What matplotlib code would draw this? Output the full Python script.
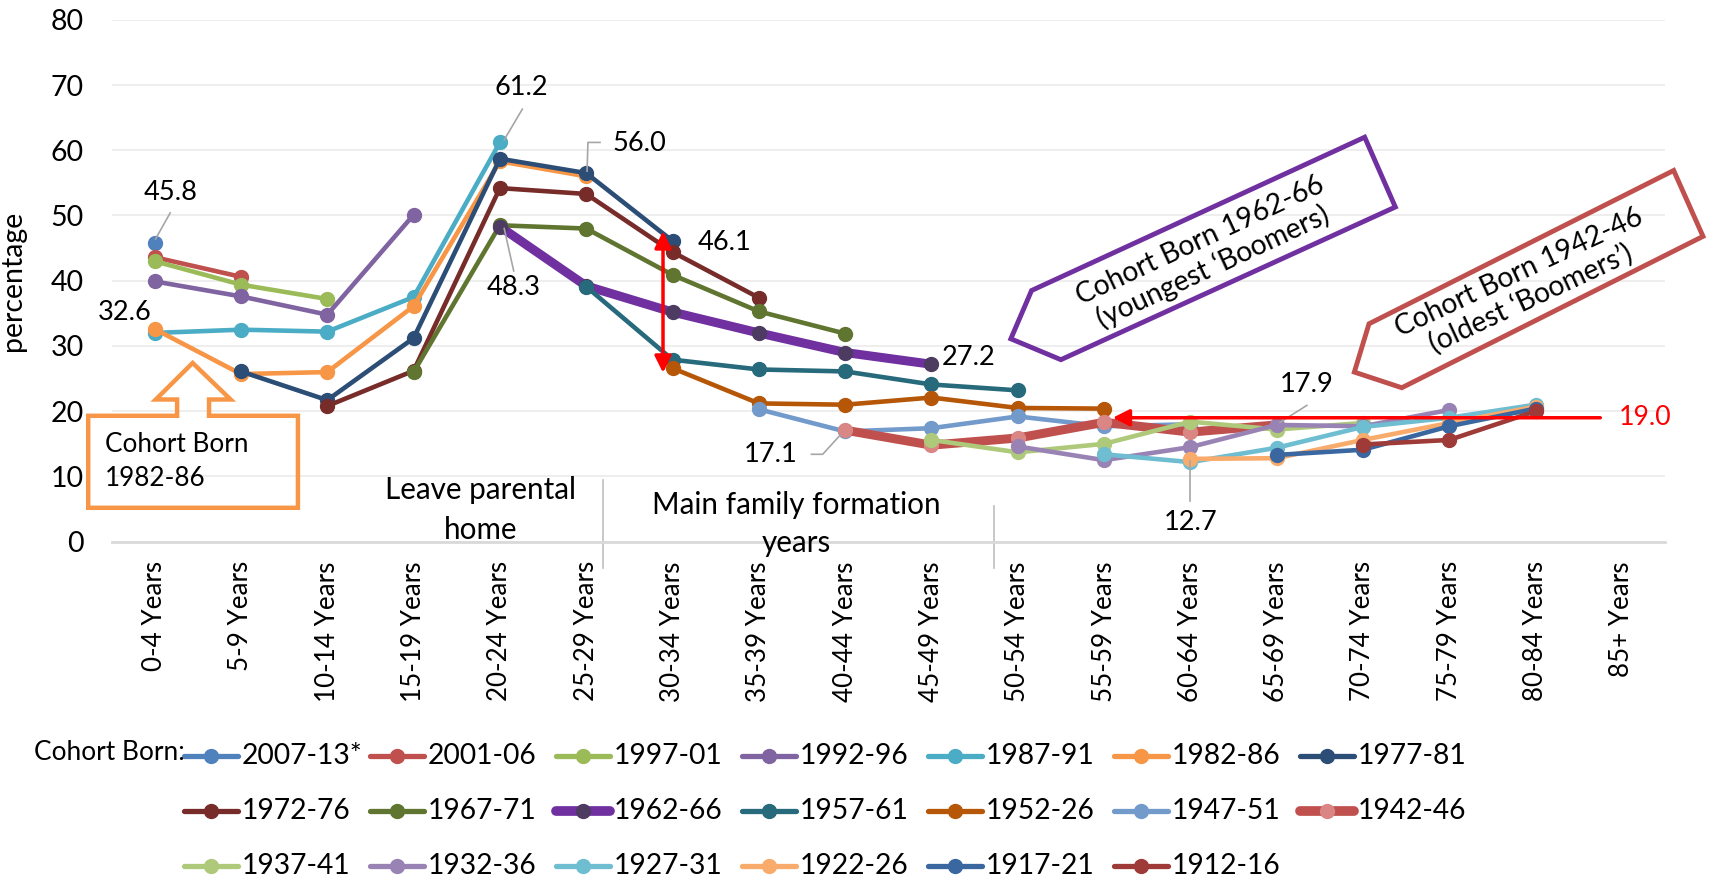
import numpy as np
import matplotlib
matplotlib.use("Agg")
import matplotlib.pyplot as plt
from matplotlib.patches import Polygon
from matplotlib.lines import Line2D

plt.rcParams['font.family'] = ['Lato', 'DejaVu Sans']

# age groups on the x axis
ages = ['0-4 Years', '5-9 Years', '10-14 Years', '15-19 Years', '20-24 Years',
        '25-29 Years', '30-34 Years', '35-39 Years', '40-44 Years', '45-49 Years',
        '50-54 Years', '55-59 Years', '60-64 Years', '65-69 Years', '70-74 Years',
        '75-79 Years', '80-84 Years', '85+ Years']

cohorts = ['2007-13*', '2001-06', '1997-01', '1992-96', '1987-91', '1982-86',
           '1977-81', '1972-76', '1967-71', '1962-66', '1957-61', '1952-26',
           '1947-51', '1942-46', '1937-41', '1932-36', '1927-31', '1922-26',
           '1917-21', '1912-16']

# index of the first age group observed for each cohort
start_age = [0, 0, 0, 0, 0, 0, 1, 2, 3, 4, 5, 6, 7, 8, 9, 10, 11, 12, 13, 14]

pct = [
    [45.8],
    [43.6, 40.6],
    [43.0, 39.4, 37.2],
    [39.9, 37.6, 34.8, 50.1],
    [32.0, 32.5, 32.2, 37.5, 61.2],
    [32.6, 25.7, 26.0, 36.1, 58.3, 56.0],
    [26.1, 21.7, 31.2, 58.7, 56.5, 46.1],
    [20.8, 26.2, 54.2, 53.3, 44.4, 37.4],
    [26.0, 48.5, 48.0, 40.9, 35.3, 31.9],
    [48.3, 39.2, 35.2, 32.0, 29.0, 27.2],
    [39.1, 27.9, 26.4, 26.1, 24.1, 23.2],
    [26.6, 21.2, 21.0, 22.1, 20.5, 20.4],
    [20.3, 16.9, 17.4, 19.2, 17.7, 18.0],
    [17.1, 14.8, 15.9, 18.3, 16.8, 17.9],
    [15.6, 13.7, 15.0, 18.4, 17.2, 18.2],
    [14.6, 12.5, 14.5, 17.9, 17.7, 20.2],
    [13.4, 12.2, 14.4, 17.6, 19.0, 21.0],
    [12.7, 12.8, 15.6, 18.2, 20.7],
    [13.3, 14.1, 17.7, 20.4],
    [14.9, 15.6, 20.0],
]

line_colors = ['#4F81BD', '#C0504D', '#9BBB59', '#8064A2', '#4BACC6', '#F79646',
               '#2C4D75', '#772C2A', '#5F7530', '#7030A0', '#276A7C', '#B65708',
               '#729ACA', '#C0504D', '#AFC97A', '#9983B5', '#6FBDD1', '#F9AB6B',
               '#3A67A0', '#9E3B38']
marker_colors = list(line_colors)
marker_colors[9] = '#4D3B62'
marker_colors[13] = '#D98684'
widths = [3.3] * 20
widths[9] = 6.5
widths[13] = 6.5

W, H = 1713, 882
fig = plt.figure(figsize=(W / 100, H / 100), dpi=100)
ax = fig.add_axes([0.0651, 0.3858, 0.9069, 0.5918])

for i, name in enumerate(cohorts):
    xs = np.arange(start_age[i], start_age[i] + len(pct[i]))
    ax.plot(xs, pct[i], color=line_colors[i], lw=widths[i], marker='o',
            ms=10, mfc=marker_colors[i], mec=marker_colors[i],
            solid_joinstyle='round', solid_capstyle='round', label=name)

ax.set_xlim(-0.5, 17.5)
ax.set_ylim(0, 80)
ax.set_yticks(range(0, 81, 10))
ax.set_xticks(range(len(ages)))
ax.set_xticklabels(ages, rotation=90, fontsize=18.7)
ax.tick_params(axis='x', length=0, pad=14)
ax.tick_params(axis='y', length=0, pad=20, labelsize=20.5)
ax.grid(axis='y', color='#EBEBEB', lw=1.2)
ax.set_axisbelow(True)
for s in ['top', 'right', 'left']:
    ax.spines[s].set_visible(False)
ax.spines['bottom'].set_color('#D9D9D9')
ax.spines['bottom'].set_linewidth(2)
ax.set_ylabel('percentage', fontsize=20.5)
ax.yaxis.set_label_coords(-0.055, 0.5)

gray = '#A6A6A6'
lab_fs = 19.6

# data labels
ax.text(0.18, 53.6, '45.8', fontsize=lab_fs, ha='center', va='center')
ax.plot([0.18, 0.01], [50.4, 46.4], color=gray, lw=1.2)
ax.text(-0.35, 35.1, '32.6', fontsize=lab_fs, ha='center', va='center')
ax.text(4.25, 69.6, '61.2', fontsize=lab_fs, ha='center', va='center')
ax.plot([4.26, 4.05], [66.3, 61.6], color=gray, lw=1.2)
ax.text(4.16, 38.9, '48.3', fontsize=lab_fs, ha='center', va='center')
ax.plot([4.16, 4.05], [41.5, 48.0], color=gray, lw=1.2)
ax.text(5.62, 61.1, '56.0', fontsize=lab_fs, ha='center', va='center')
ax.plot([5.16, 5.02, 5.01], [61.2, 61.2, 56.8], color=gray, lw=1.2)
ax.text(6.6, 45.8, '46.1', fontsize=lab_fs, ha='center', va='center')
ax.text(9.43, 28.2, '27.2', fontsize=lab_fs, ha='center', va='center')
ax.text(7.14, 13.3, '17.1', fontsize=lab_fs, ha='center', va='center')
ax.plot([7.61, 7.74, 7.94], [13.4, 13.4, 16.3], color=gray, lw=1.2)
ax.text(13.35, 24.1, '17.9', fontsize=lab_fs, ha='center', va='center')
ax.plot([13.35, 13.04], [20.9, 18.3], color=gray, lw=1.2)
ax.text(12.0, 2.9, '12.7', fontsize=lab_fs, ha='center', va='center')
ax.plot([12.0, 12.0], [12.3, 6.2], color=gray, lw=1.2)

# life-stage notes
ax.text(3.78, 4.9, 'Leave parental\nhome', fontsize=21.3, ha='center', va='center',
        linespacing=1.5)
ax.text(7.44, 2.7, 'Main family formation\nyears', fontsize=21.3, ha='center',
        va='center', linespacing=1.45)
ax.plot([5.19, 5.19], [9.5, -4], color='#BFBFBF', lw=1.2, clip_on=False)
ax.plot([9.72, 9.72], [5.4, -4], color='#BFBFBF', lw=1.2, clip_on=False)

# red arrows
ax.annotate('', xy=(5.89, 47.6), xytext=(5.89, 25.9),
            arrowprops=dict(arrowstyle='<|-|>', color='red', lw=2.5,
                            mutation_scale=25, shrinkA=0, shrinkB=0))
ax.annotate('', xy=(11.1, 19.0), xytext=(16.75, 19.0),
            arrowprops=dict(arrowstyle='-|>', color='red', lw=2.5,
                            mutation_scale=25, shrinkA=0, shrinkB=0))
ax.text(16.96, 19.0, '19.0', color='red', fontsize=19.3, ha='left', va='center')

# orange callout
orange_shape = [(-0.77, 19.3), (0.26, 19.3), (0.26, 21.8), (0.013, 21.8),
                (0.44, 27.4), (0.88, 21.8), (0.63, 21.8), (0.63, 19.3),
                (1.66, 19.3), (1.66, 5.2), (-0.77, 5.2)]
ax.add_patch(Polygon(orange_shape, closed=True, fill=False, ec='#F79646',
                     lw=3.2, clip_on=False, joinstyle='miter'))
ax.text(-0.58, 12.3, 'Cohort Born\n1982-86', fontsize=18.8, ha='left',
        va='center', linespacing=1.45)

# boomer callouts
purple_shape = [(14.02, 62.0), (14.375, 51.3), (10.5, 27.9), (9.92, 31.1),
                (10.16, 38.5)]
ax.add_patch(Polygon(purple_shape, closed=True, fill=False, ec='#7030A0',
                     lw=3.5, clip_on=False, joinstyle='miter'))
ax.text(12.19, 44.0, 'Cohort Born 1962-66\n(youngest \u2018Boomers)',
        fontsize=20.3, rotation=25, ha='center', va='center',
        rotation_mode='anchor', linespacing=1.1)
red_shape = [(17.6, 56.9), (17.94, 46.8), (14.45, 23.6), (13.9, 26.0),
             (14.07, 33.4)]
ax.add_patch(Polygon(red_shape, closed=True, fill=False, ec='#C0504D',
                     lw=3.5, clip_on=False, joinstyle='miter'))
ax.text(15.88, 39.2, 'Cohort Born 1942-46\n(oldest \u2018Boomers\u2019)',
        fontsize=20.3, rotation=25, ha='center', va='center',
        rotation_mode='anchor', linespacing=1.1)

# legend laid out like Excel: 7 equal columns, filled row by row
fig.text(34 / W, 1 - 753 / H, 'Cohort Born:', fontsize=18.9, va='center')
col_x0, col_pitch, row_y0, row_pitch, handle_len = 184, 186, 756, 55, 54
for k, name in enumerate(cohorts):
    r, c = divmod(k, 7)
    x0 = col_x0 + c * col_pitch
    yy = 1 - (row_y0 + r * row_pitch) / H
    fig.add_artist(Line2D([x0 / W, (x0 + handle_len) / W], [yy, yy],
                          transform=fig.transFigure, color=line_colors[k],
                          lw=widths[k] + 0.5, solid_capstyle='round'))
    fig.add_artist(Line2D([(x0 + handle_len / 2) / W], [yy],
                          transform=fig.transFigure, marker='o', ms=10,
                          mfc=marker_colors[k], mec=marker_colors[k], lw=0))
    fig.text((x0 + handle_len + 4) / W, yy, name, fontsize=20.3, va='center',
             ha='left')

fig.savefig('out.png', dpi=100)
